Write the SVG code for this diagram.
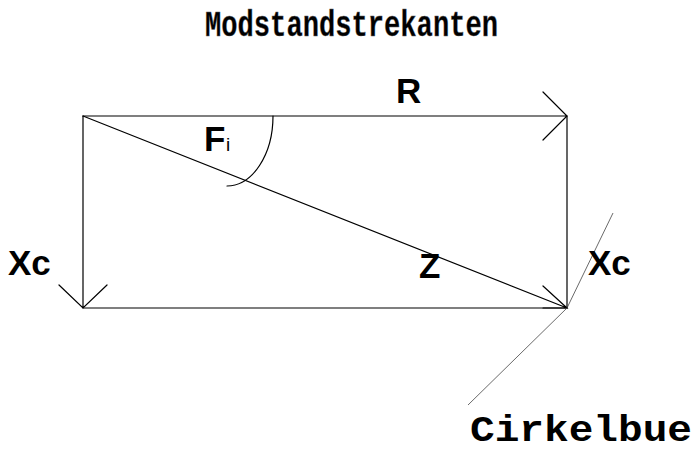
<svg xmlns="http://www.w3.org/2000/svg" width="699" height="452" viewBox="0 0 699 452">
<style>
.ln{fill:none;stroke:#000;stroke-width:1.2;stroke-linecap:round}
.thin{fill:none;stroke:#444;stroke-width:0.8}
.lbl{font-family:"Liberation Sans",Arial,sans-serif;font-weight:bold;font-size:35px;fill:#000}
.mono{font-family:"Liberation Mono","Courier New",monospace;font-weight:bold;fill:#000}
</style>
<rect width="699" height="452" fill="#fff"/>
<g id="title">
<text class="mono" x="205" y="36" font-size="36" textLength="293" lengthAdjust="spacingAndGlyphs" stroke="#666" stroke-width="0.4">Modstandstrekanten</text>
</g>
<g id="connectors">
<path id="R-vector" class="ln" d="M83 116 H567 M543 92 L567 116 L543 140"/>
<path id="Xc-left" class="ln" d="M83 116 V308 M59 285 L83 308 L107 285"/>
<path id="bottom" class="ln" d="M83 308 H567" stroke="#333"/>
<path id="Z-vector" class="ln" d="M83 116 L567 308 M543 286 L567 308 L543 308"/>
<path id="right-side" class="ln" d="M567 116 V308"/>
<path id="angle-arc" class="ln" d="M273 116 A46 70 0 0 1 227 186"/>
<path id="Xc-right" class="thin" d="M613 213 L567 308"/>
<path id="tangent" class="thin" d="M567 308 L468 405"/>
</g>
<g id="labels">
<text id="R" class="lbl" x="396" y="103">R</text>
<g id="Fi"><text class="lbl" x="204" y="151">F</text><text x="226" y="151" font-family="Liberation Sans,Arial,sans-serif" font-size="19">i</text></g>
<text id="Xc1" class="lbl" x="8" y="275">Xc</text>
<text id="Z" class="lbl" x="419" y="278">Z</text>
<text id="Xc2" class="lbl" x="588" y="275">Xc</text>
<text id="Cirkelbue" class="mono" x="470" y="441" font-size="37" textLength="222" lengthAdjust="spacingAndGlyphs">Cirkelbue</text>
</g>
</svg>
